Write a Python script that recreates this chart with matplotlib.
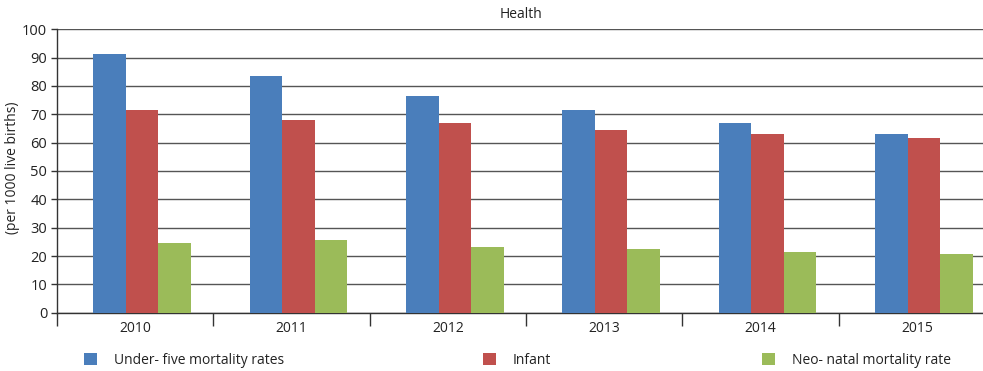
import matplotlib
matplotlib.use("Agg")
import matplotlib.pyplot as plt
import numpy as np

plt.rcParams['font.family'] = ['Open Sans', 'DejaVu Sans']

years = ["2010", "2011", "2012", "2013", "2014", "2015"]
under_five = [91.2, 83.4, 76.5, 71.4, 67.0, 62.9]
infant = [71.4, 68.1, 67.0, 64.4, 62.9, 61.5]
neo_natal = [24.5, 25.8, 23.1, 22.4, 21.3, 20.6]
series_names = ["Under- five mortality rates", "Infant", "Neo- natal mortality rate"]
colors = ["#4A7EBB", "#C0504D", "#9BBB59"]

W, H = 983, 371
fig = plt.figure(figsize=(W / 100, H / 100), dpi=100)

# axes box in pixel terms: left spine at x=57, plot extends past the right edge
left, right = 57, 995
bottom, top = 312.7, 29.3
ax = fig.add_axes([left / W, (H - bottom) / H, (right - left) / W, (bottom - top) / H])

x = np.arange(len(years))
bw = 0.208
bars = []
for i, (vals, c) in enumerate(zip([under_five, infant, neo_natal], colors)):
    b = ax.bar(x + (i - 1) * bw + 0.045, vals, width=bw, color=c, zorder=3, linewidth=0)
    bars.append(b)

ax.set_xlim(-0.5, len(years) - 0.5)
ax.set_ylim(0, 100)
ax.set_yticks(np.arange(0, 101, 10))
ax.yaxis.grid(True, color="#555555", linewidth=1.0, zorder=0)
ax.set_axisbelow(True)

# category labels centered, tick marks on category boundaries
ax.set_xticks(x)
ax.set_xticklabels(years)
ax.tick_params(axis="x", which="major", length=0, pad=6, labelsize=10, colors="#222222")
ax.set_xticks(np.arange(-0.5, len(years)), minor=True)
ax.tick_params(axis="x", which="minor", length=9, width=1, color="#333333", direction="out")
ax.tick_params(axis="y", length=4, width=1, color="#333333", labelsize=10.5, colors="#222222", pad=3)

for s in ["top", "right"]:
    ax.spines[s].set_visible(False)
for s in ["left", "bottom"]:
    ax.spines[s].set_color("#333333")
    ax.spines[s].set_linewidth(1.0)

fig.text(521 / W, 1 - 14 / H, "Health", ha="center", va="center", fontsize=10, color="#222222")
fig.text(13 / W, 1 - 168 / H, "(per 1000 live births)", rotation=90, ha="center", va="center",
         fontsize=10, color="#222222")

# legend entries placed individually along the bottom
legend_x = [84, 483, 762]
for b, name, lx in zip(bars, series_names, legend_x):
    lg = fig.legend([b], [name], loc="center left", bbox_to_anchor=(lx / W, 1 - 360 / H),
                    frameon=False, fontsize=10, handlelength=0.95, handleheight=0.95,
                    handletextpad=1.2, borderpad=0, borderaxespad=0)
    for t in lg.get_texts():
        t.set_color("#222222")

fig.savefig("out.png", dpi=100)
